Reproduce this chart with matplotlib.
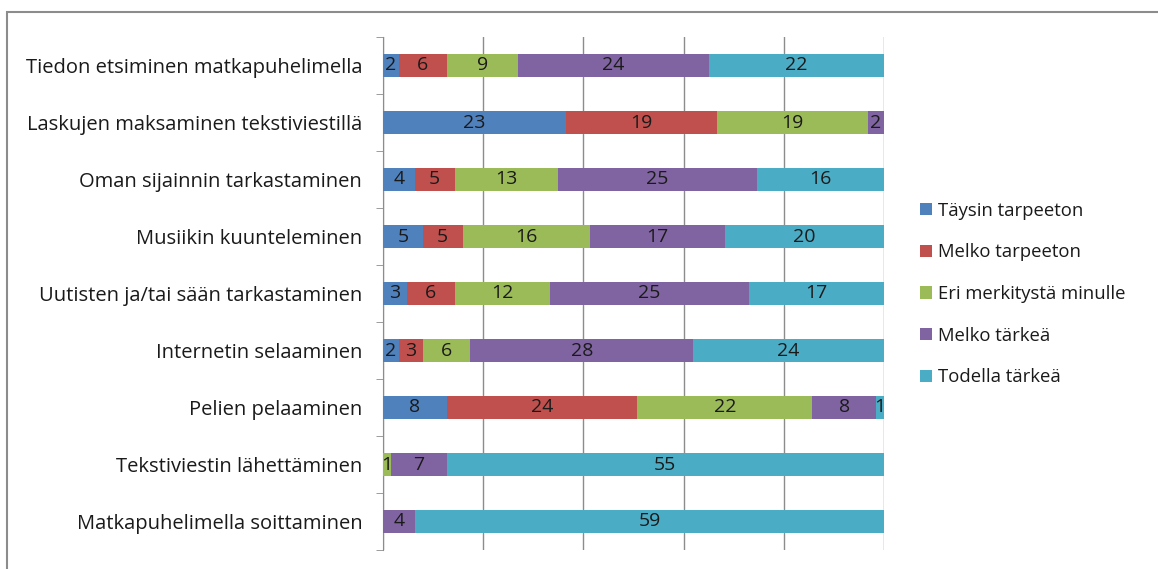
import numpy as np
import matplotlib.pyplot as plt
from matplotlib.patches import Rectangle

plt.rcParams['font.family'] = ['Open Sans', 'DejaVu Sans']

# Data (top row first)
categories = ['Tiedon etsiminen matkapuhelimella',
              'Laskujen maksaminen tekstiviestillä',
              'Oman sijainnin tarkastaminen',
              'Musiikin kuunteleminen',
              'Uutisten ja/tai sään tarkastaminen',
              'Internetin selaaminen',
              'Pelien pelaaminen',
              'Tekstiviestin lähettäminen',
              'Matkapuhelimella soittaminen']
series = ['Täysin tarpeeton', 'Melko tarpeeton', 'Eri merkitystä minulle',
          'Melko tärkeä', 'Todella tärkeä']
taysin = [2, 23, 4, 5, 3, 2, 8, 0, 0]
melko_tarp = [6, 19, 5, 5, 6, 3, 24, 0, 0]
eri = [9, 19, 13, 16, 12, 6, 22, 1, 0]
melko_tark = [24, 2, 25, 17, 25, 28, 8, 7, 4]
todella = [22, 0, 16, 20, 17, 24, 1, 55, 59]
colors = ['#4F81BD', '#C0504D', '#9BBB59', '#8064A2', '#4BACC6']

values = np.array([taysin, melko_tarp, eri, melko_tark, todella], dtype=float)
totals = values.sum(axis=0)
shares = values / totals * 100

fig = plt.figure(figsize=(11.58, 5.69), dpi=100)
ax = fig.add_axes([383 / 1158, 19 / 569, 501 / 1158, 513 / 569])

y = np.arange(len(categories))
left = np.zeros(len(categories))
for i, name in enumerate(series):
    ax.barh(y, shares[i], left=left, height=0.39, color=colors[i], label=name, zorder=3)
    for j in range(len(categories)):
        if values[i, j] > 0:
            ax.text(left[j] + shares[i, j] / 2, y[j], f'{int(values[i, j])}',
                    ha='center', va='center', fontsize=14, color='#1a1a1a', zorder=4)
    left += shares[i]

ax.set_xlim(0, 100)
ax.set_ylim(len(categories) - 0.5, -0.5)
ax.set_xticks(np.arange(0, 101, 20))
ax.set_xticklabels([])
ax.tick_params(axis='x', length=0)
ax.grid(axis='x', color='#8c8c8c', linewidth=1, zorder=0)

ax.set_yticks(y)
ax.set_yticklabels(categories, fontsize=14.5, color='#1a1a1a')
ax.tick_params(axis='y', length=0, pad=15)
ax.set_yticks(np.arange(-0.5, len(categories), 1), minor=True)
ax.tick_params(axis='y', which='minor', length=5, color='#8c8c8c')

for s in ['top', 'right', 'bottom']:
    ax.spines[s].set_visible(False)
ax.spines['left'].set_color('#8c8c8c')

handles, labels = ax.get_legend_handles_labels()
fig.legend(handles, labels, loc='center left',
           bbox_to_anchor=(903 / 1158, (569 - 294) / 569),
           frameon=False, fontsize=13.3, handlelength=0.65, handleheight=0.65,
           handletextpad=0.35, labelspacing=1.28, labelcolor='#1a1a1a')

fig.add_artist(Rectangle((7 / 1158, -0.1), 1.2, (569 - 12) / 569 + 0.1,
                         transform=fig.transFigure, fill=False,
                         edgecolor='#8c8c8c', linewidth=1.5))

fig.savefig('out.png', dpi=100)
